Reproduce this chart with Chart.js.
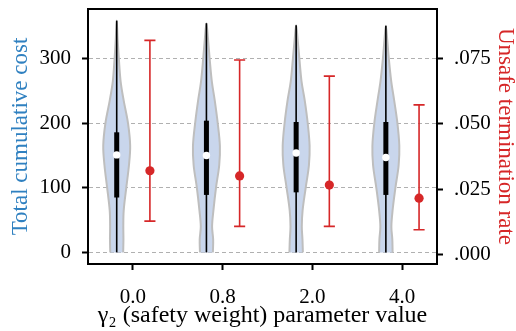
<!DOCTYPE html>
<html>
<head>
<meta charset="utf-8">
<script src="https://cdn.jsdelivr.net/npm/chart.js@4.4.0/dist/chart.umd.min.js"></script>
<style>
    html, body { margin: 0; padding: 0; background: #fff; }
    #chart { display: block; }
</style>
</head>
<body>
<canvas id="chart" width="516" height="331"></canvas>
<script>
// gamma_2 settings shown on the x axis
const categories = ['0.0', '0.8', '2.0', '4.0'];

// Total cumulative cost (left axis), box stats per violin
const costMin = [0, 0, 0, 0];
const costQ1 = [85, 89, 93, 89];
const costMedian = [151, 150, 154, 147];
const costQ3 = [186, 204, 202, 202];
const costMax = [359, 355, 352, 351];

// Violin outline: relative density read at these cost levels
const densityLevels = [0, 20, 40, 65, 100, 135, 165, 200, 235, 265, 300, 330];
const density00 = [0.48, 0.50, 0.49, 0.52, 0.71, 0.91, 1.00, 0.84, 0.52, 0.29, 0.16, 0.07];
const density08 = [0.48, 0.50, 0.42, 0.52, 0.71, 0.95, 1.00, 0.84, 0.62, 0.40, 0.24, 0.12];
const density20 = [0.50, 0.47, 0.42, 0.48, 0.71, 0.95, 1.00, 0.86, 0.64, 0.40, 0.24, 0.11];
const density40 = [0.50, 0.48, 0.41, 0.50, 0.71, 0.95, 1.00, 0.86, 0.62, 0.40, 0.22, 0.10];
const densities = [density00, density08, density20, density40];

// Unsafe termination rate (right axis), mean and error bar ends
const rateMean = [0.0320, 0.0300, 0.0265, 0.0215];
const rateLow = [0.0127, 0.0107, 0.0107, 0.0094];
const rateHigh = [0.0819, 0.0744, 0.0682, 0.0572];

const costTicks = [0, 100, 200, 300];
const rateTicks = [0, 0.025, 0.05, 0.075];

const RED = '#d62728';
const BLUE = '#2f80c0';
const VIOLIN_SHIFT = -0.18;   // violins sit left of the tick
const ERR_SHIFT = 0.19;       // error bars sit right of the tick
const VIOLIN_HALF = 0.15;     // half width at peak density, x units
const CAP_HALF = 0.062;

const serif = "'Liberation Serif', 'Times New Roman', serif";

function violinPoints(i) {
    const xc = i + VIOLIN_SHIFT;
    const d = densities[i];
    const left = densityLevels.map((lv, k) => ({ x: xc - d[k] * VIOLIN_HALF, y: lv }));
    const right = densityLevels.map((lv, k) => ({ x: xc + d[k] * VIOLIN_HALF, y: lv })).reverse();
    return [...left, { x: xc, y: costMax[i] }, ...right];
}

function errorBarPoints(i) {
    const x = i + ERR_SHIFT;
    return [
        { x: x - CAP_HALF, y: rateLow[i] },
        { x: x + CAP_HALF, y: rateLow[i] },
        { x: x, y: rateLow[i] },
        { x: x, y: rateHigh[i] },
        { x: x - CAP_HALF, y: rateHigh[i] },
        { x: x + CAP_HALF, y: rateHigh[i] }
    ];
}

// drop the label overhang padding so the plot box keeps its size
function noVerticalPadding(axis) {
    axis.paddingTop = 0;
    axis.paddingBottom = 0;
}

const datasets = [];

categories.forEach((c, i) => {
    const xc = i + VIOLIN_SHIFT;
    datasets.push({
        data: violinPoints(i),
        showLine: true,
        fill: 'shape',
        backgroundColor: 'rgb(201, 214, 236)',
        borderColor: 'rgb(190, 190, 190)',
        borderWidth: 2,
        tension: 0.35,
        pointRadius: 0,
        yAxisID: 'y',
        order: 6
    });
    datasets.push({
        data: [{ x: xc, y: costMin[i] }, { x: xc, y: costMax[i] }],
        showLine: true,
        borderColor: '#000',
        borderWidth: 1.6,
        pointRadius: 0,
        yAxisID: 'y',
        order: 5
    });
    datasets.push({
        data: [{ x: xc, y: costQ1[i] }, { x: xc, y: costQ3[i] }],
        showLine: true,
        borderColor: '#000',
        borderWidth: 5,
        borderCapStyle: 'butt',
        pointRadius: 0,
        yAxisID: 'y',
        order: 4
    });
    datasets.push({
        data: errorBarPoints(i),
        showLine: true,
        borderColor: RED,
        borderWidth: 1.6,
        borderCapStyle: 'butt',
        borderJoinStyle: 'miter',
        pointRadius: 0,
        yAxisID: 'y2',
        order: 3
    });
});

// median dots
datasets.push({
    data: costMedian.map((v, i) => ({ x: i + VIOLIN_SHIFT, y: v })),
    pointRadius: 3.7,
    pointBackgroundColor: '#fff',
    pointBorderWidth: 0,
    yAxisID: 'y',
    order: 2
});

// mean rate dots
datasets.push({
    data: rateMean.map((v, i) => ({ x: i + ERR_SHIFT, y: v })),
    pointRadius: 4.6,
    pointBackgroundColor: RED,
    pointBorderWidth: 0,
    yAxisID: 'y2',
    order: 1
});

// top spine, the other three come from the axes
const topSpine = {
    id: 'topSpine',
    afterDraw(chart) {
        const { ctx, chartArea } = chart;
        ctx.save();
        ctx.strokeStyle = '#000';
        ctx.lineWidth = 2;
        ctx.beginPath();
        ctx.moveTo(chartArea.left - 1, chartArea.top);
        ctx.lineTo(chartArea.right + 1, chartArea.top);
        ctx.stroke();
        ctx.restore();
    }
};

new Chart(document.getElementById('chart'), {
    type: 'scatter',
    data: { datasets },
    plugins: [topSpine],
    options: {
        responsive: false,
        animation: false,
        devicePixelRatio: 1,
        layout: { padding: { top: 9, left: 0, right: 0, bottom: 0 } },
        plugins: {
            legend: { display: false },
            tooltip: { enabled: false }
        },
        scales: {
            x: {
                type: 'linear',
                min: -0.5,
                max: 3.39,
                afterBuildTicks: axis => { axis.ticks = categories.map((c, i) => ({ value: i })); },
                afterFit: axis => {
                    axis.height = 67;
                    axis.paddingLeft = 0;
                    axis.paddingRight = 0;
                },
                ticks: {
                    callback: (v) => categories[v],
                    color: '#000',
                    font: { family: serif, size: 21 },
                    padding: 15,
                    maxRotation: 0
                },
                grid: { drawOnChartArea: false, drawTicks: true, tickLength: 6, tickColor: '#000', tickWidth: 2 },
                border: { color: '#000', width: 2 },
                title: {
                    display: true,
                    text: 'γ₂ (safety weight) parameter value',
                    color: '#000',
                    font: { family: serif, size: 24 },
                    padding: { top: 0, bottom: 1 }
                }
            },
            y: {
                position: 'left',
                min: -18,
                max: 377,
                afterBuildTicks: axis => { axis.ticks = costTicks.map(v => ({ value: v })); },
                afterFit: axis => {
                    axis.width = 88;
                    noVerticalPadding(axis);
                },
                ticks: {
                    color: '#000',
                    font: { family: serif, size: 21 },
                    padding: 11
                },
                grid: { color: '#b0b0b0', lineWidth: 1, tickLength: 6, tickColor: '#000', tickWidth: 2, tickBorderDash: [] },
                border: { color: '#000', width: 2, dash: [4, 3] },
                title: {
                    display: true,
                    text: 'Total cumulative cost',
                    color: BLUE,
                    font: { family: serif, size: 23, lineHeight: 1 },
                    padding: { top: 9, bottom: 0 }
                }
            },
            y2: {
                position: 'right',
                min: -0.0037,
                max: 0.0939,
                afterBuildTicks: axis => { axis.ticks = rateTicks.map(v => ({ value: v })); },
                afterFit: axis => {
                    axis.width = 79;
                    noVerticalPadding(axis);
                },
                ticks: {
                    callback: (v) => v.toFixed(3).replace(/^0/, ''),
                    color: '#000',
                    font: { family: serif, size: 21 },
                    padding: 11
                },
                grid: { drawOnChartArea: false, tickLength: 6, tickColor: '#000', tickWidth: 2 },
                border: { color: '#000', width: 2 },
                title: {
                    display: true,
                    text: 'Unsafe termination rate',
                    color: RED,
                    font: { family: serif, size: 23, lineHeight: 1 },
                    padding: { top: -1, bottom: 0 }
                }
            }
        }
    }
});
</script>
</body>
</html>
